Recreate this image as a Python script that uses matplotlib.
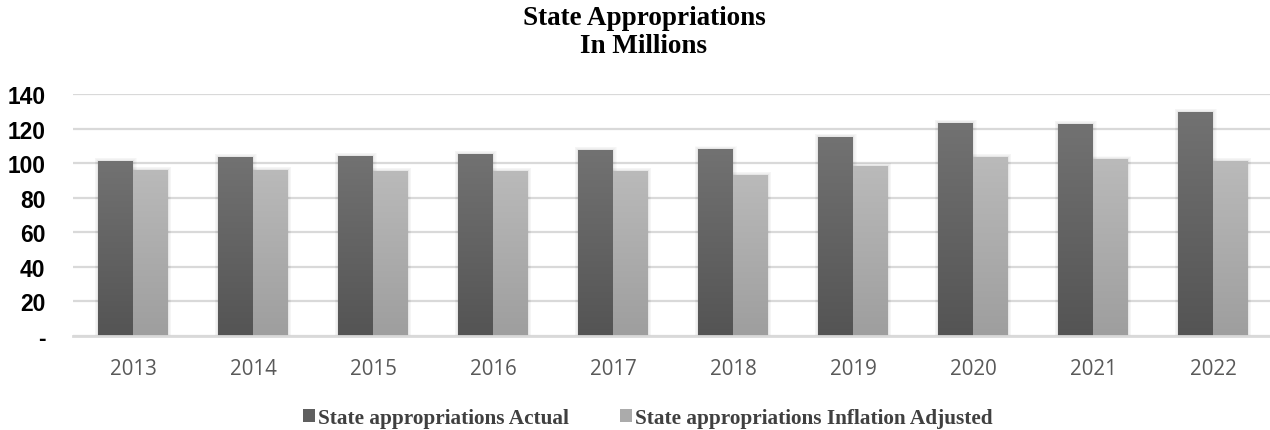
import numpy as np
import matplotlib
matplotlib.use("Agg")
import matplotlib.pyplot as plt
from matplotlib.patches import Rectangle, Patch
from matplotlib.colors import LinearSegmentedColormap
from matplotlib.ticker import FixedLocator, FuncFormatter

years = ["2013", "2014", "2015", "2016", "2017", "2018", "2019", "2020", "2021", "2022"]
actual = [101.4, 103.7, 104.3, 105.4, 107.7, 108.2, 115.3, 123.4, 122.8, 129.7]
inflation_adjusted = [96.2, 96.2, 95.6, 95.6, 95.6, 93.3, 98.5, 103.7, 102.4, 101.4]
series_names = ["State appropriations Actual", "State appropriations Inflation Adjusted"]
y_ticks = [0, 20, 40, 60, 80, 100, 120, 140]
title_lines = ["State Appropriations", "In Millions"]

W, H = 1270, 431
fig = plt.figure(figsize=(W / 100, H / 100), dpi=100)
ax = fig.add_axes([73 / W, 1 - 337 / H, 1 - 73 / W, (337 - 95) / H])

x = np.arange(len(years))
width = 0.29

grad_dark = LinearSegmentedColormap.from_list("dark", ["#545454", "#727272"])
grad_light = LinearSegmentedColormap.from_list("light", ["#9e9e9e", "#bababa"])
ramp = np.linspace(0, 1, 256).reshape(-1, 1)


def draw_series(xpos, values, cmap, base):
    bars = ax.bar(xpos, values, width, color=base, zorder=3, linewidth=0)
    for b in bars:
        x0, w, h = b.get_x(), b.get_width(), b.get_height()
        # soft drop shadow around the bar
        for k in range(1, 6):
            dx = k * 0.006
            dy = k * 0.35
            ax.add_patch(Rectangle((x0 - dx, 0), w + 2 * dx, h + dy,
                                   facecolor="black", alpha=0.018, linewidth=0,
                                   zorder=2))
        im = ax.imshow(ramp, cmap=cmap, aspect="auto", origin="lower",
                       extent=(x0, x0 + w, 0, h), zorder=4, interpolation="bicubic")
        im.set_clip_path(b)
    return bars


draw_series(x - width / 2, actual, grad_dark, "#636363")
draw_series(x + width / 2, inflation_adjusted, grad_light, "#adadad")

ax.set_xlim(-0.5, 9.5 - 3 / 120)
ax.set_ylim(0, 140)

ax.yaxis.set_major_locator(FixedLocator(y_ticks))
ax.yaxis.set_major_formatter(FuncFormatter(lambda v, p: "-" if v == 0 else f"{int(v)}"))
ax.grid(axis="y", color="#d9d9d9", linewidth=1.6, zorder=0)
ax.set_axisbelow(True)

ax.set_xticks(x)
ax.set_xticklabels(years, fontfamily="Open Sans", fontsize=14.8, color="#595959")
for lab in ax.get_yticklabels():
    lab.set_fontfamily("Liberation Sans")
    lab.set_fontweight("bold")
    lab.set_fontsize(16.4)
    lab.set_color("black")

ax.tick_params(axis="y", length=0, pad=20)
ax.tick_params(axis="x", length=0, pad=16)
for s in ["top", "right", "left"]:
    ax.spines[s].set_visible(False)
ax.spines["bottom"].set_color("#d9d9d9")
ax.spines["bottom"].set_linewidth(2)
ax.spines["bottom"].set_zorder(5)

for line, base_y in zip(title_lines, [25, 53]):
    fig.text(644 / W, 1 - base_y / H, line, ha="center", va="baseline",
             fontfamily="Liberation Serif", fontweight="bold", fontsize=19.5)

handles = [Patch(facecolor="#5f5f5f"), Patch(facecolor="#ababab")]
fig.legend(handles, series_names, loc="center", bbox_to_anchor=(648 / W, 1 - 419 / H),
           ncol=2, frameon=False, prop={"family": "Liberation Serif", "weight": "bold", "size": 15.3},
           handlelength=0.57, handleheight=0.57, handletextpad=0.15, columnspacing=2.4,
           labelcolor="#404040")

fig.savefig("out.png", dpi=100)
